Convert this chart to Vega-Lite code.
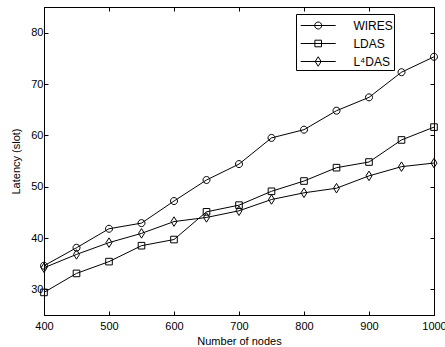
{
  "$schema": "https://vega.github.io/schema/vega-lite/v6.json",
  "autosize": {"type": "none"},
  "width": 390,
  "height": 308,
  "padding": {"left": 44, "top": 7, "right": 11, "bottom": 32},
  "background": "white",
  "config": {
    "font": "Liberation Sans",
    "view": {"stroke": "black", "strokeWidth": 1},
    "axis": {
      "domainColor": "black", "tickColor": "black", "labelColor": "black", "titleColor": "black",
      "labelFont": "Liberation Sans", "titleFont": "Liberation Sans",
      "labelFontSize": 11, "titleFontSize": 11, "titleFontWeight": "normal",
      "grid": false, "tickSize": -4, "domainWidth": 1, "tickWidth": 1
    }
  },
  "data": {
    "values": [
      {"nodes": 400, "latency": 34.6, "series": "WIRES"},
      {"nodes": 450, "latency": 38.1, "series": "WIRES"},
      {"nodes": 500, "latency": 41.8, "series": "WIRES"},
      {"nodes": 550, "latency": 42.9, "series": "WIRES"},
      {"nodes": 600, "latency": 47.2, "series": "WIRES"},
      {"nodes": 650, "latency": 51.3, "series": "WIRES"},
      {"nodes": 700, "latency": 54.4, "series": "WIRES"},
      {"nodes": 750, "latency": 59.5, "series": "WIRES"},
      {"nodes": 800, "latency": 61.1, "series": "WIRES"},
      {"nodes": 850, "latency": 64.8, "series": "WIRES"},
      {"nodes": 900, "latency": 67.4, "series": "WIRES"},
      {"nodes": 950, "latency": 72.3, "series": "WIRES"},
      {"nodes": 1000, "latency": 75.3, "series": "WIRES"},
      {"nodes": 400, "latency": 29.4, "series": "LDAS"},
      {"nodes": 450, "latency": 33.1, "series": "LDAS"},
      {"nodes": 500, "latency": 35.4, "series": "LDAS"},
      {"nodes": 550, "latency": 38.5, "series": "LDAS"},
      {"nodes": 600, "latency": 39.7, "series": "LDAS"},
      {"nodes": 650, "latency": 45.1, "series": "LDAS"},
      {"nodes": 700, "latency": 46.4, "series": "LDAS"},
      {"nodes": 750, "latency": 49.1, "series": "LDAS"},
      {"nodes": 800, "latency": 51.1, "series": "LDAS"},
      {"nodes": 850, "latency": 53.7, "series": "LDAS"},
      {"nodes": 900, "latency": 54.8, "series": "LDAS"},
      {"nodes": 950, "latency": 59.1, "series": "LDAS"},
      {"nodes": 1000, "latency": 61.6, "series": "LDAS"},
      {"nodes": 400, "latency": 34.2, "series": "L⁴DAS"},
      {"nodes": 450, "latency": 36.8, "series": "L⁴DAS"},
      {"nodes": 500, "latency": 39.1, "series": "L⁴DAS"},
      {"nodes": 550, "latency": 40.9, "series": "L⁴DAS"},
      {"nodes": 600, "latency": 43.2, "series": "L⁴DAS"},
      {"nodes": 650, "latency": 44.0, "series": "L⁴DAS"},
      {"nodes": 700, "latency": 45.3, "series": "L⁴DAS"},
      {"nodes": 750, "latency": 47.5, "series": "L⁴DAS"},
      {"nodes": 800, "latency": 48.8, "series": "L⁴DAS"},
      {"nodes": 850, "latency": 49.7, "series": "L⁴DAS"},
      {"nodes": 900, "latency": 52.1, "series": "L⁴DAS"},
      {"nodes": 950, "latency": 53.9, "series": "L⁴DAS"},
      {"nodes": 1000, "latency": 54.6, "series": "L⁴DAS"}
    ]
  },
  "layer": [
    {
      "encoding": {
        "x": {"field": "nodes", "type": "quantitative", "scale": {"domain": [400, 1000], "nice": false, "zero": false},
          "axis": {"title": "Number of nodes", "values": [400, 500, 600, 700, 800, 900, 1000], "format": "d", "labelPadding": 9, "titlePadding": 4, "labelFlush": false}},
        "y": {"field": "latency", "type": "quantitative", "scale": {"domain": [25, 85], "nice": false, "zero": false},
          "axis": {"title": "Latency (slot)", "values": [30, 40, 50, 60, 70, 80], "labelPadding": 5, "titlePadding": 9}}
      },
      "layer": [
        {
          "mark": {"type": "line", "color": "black", "strokeWidth": 1},
          "encoding": {"detail": {"field": "series"}}
        },
        {
          "mark": {"type": "point", "filled": false, "stroke": "black", "strokeWidth": 1, "size": 100, "opacity": 1},
          "encoding": {
            "shape": {
              "field": "series", "type": "nominal", "legend": null,
              "scale": {
                "domain": ["WIRES", "LDAS", "L⁴DAS"],
                "range": [
                  "M0.7,0A0.7,0.7 0 1,1 -0.7,0A0.7,0.7 0 1,1 0.7,0Z",
                  "M-0.66,-0.66H0.66V0.66H-0.66Z",
                  "M0,-0.95L0.6,0L0,0.95L-0.6,0Z"
                ]
              }
            }
          }
        }
      ]
    },
    {
      "mark": {"type": "point", "opacity": 0, "filled": false, "stroke": "black", "strokeWidth": 1, "size": 400},
      "encoding": {
        "x": {"field": "nodes", "type": "quantitative", "axis": {"orient": "top", "values": [400, 500, 600, 700, 800, 900, 1000], "labels": false, "labelExpr": "''", "title": null}},
        "y": {"field": "latency", "type": "quantitative", "axis": {"orient": "right", "values": [30, 40, 50, 60, 70, 80], "labels": false, "labelExpr": "''", "title": null}},
        "shape": {
          "field": "series", "type": "nominal",
          "scale": {
            "domain": ["WIRES", "LDAS", "L⁴DAS"],
            "range": [
              "M-1.75,0H1.75M0.35,0A0.35,0.35 0 1,1 -0.35,0A0.35,0.35 0 1,1 0.35,0Z",
              "M-1.75,0H1.75M-0.33,-0.33H0.33V0.33H-0.33Z",
              "M-1.75,0H1.75M0,-0.475L0.3,0L0,0.475L-0.3,0Z"
            ]
          },
          "legend": {
            "title": null,
            "orient": "none",
            "legendX": 252,
            "legendY": 7,
            "fillColor": "white",
            "strokeColor": "black",
            "padding": 1,
            "labelFont": "Liberation Sans",
            "labelFontSize": 12,
            "labelColor": "black",
            "symbolOffset": 10.7,
            "labelOffset": 24.7,
            "rowPadding": 1,
            "symbolOpacity": 1,
            "symbolSize": 400,
            "symbolFillColor": "transparent",
            "symbolStrokeColor": "black",
            "symbolStrokeWidth": 1
          }
        }
      }
    }
  ],
  "resolve": {"axis": {"x": "independent", "y": "independent"}, "scale": {"shape": "independent"}}
}
